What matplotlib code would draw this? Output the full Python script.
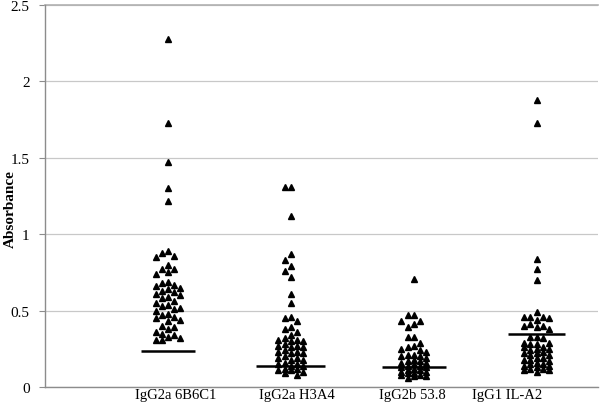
import numpy as np
import matplotlib
matplotlib.use("Agg")
import matplotlib.pyplot as plt

# ─── Data ────────────────────────────────────────────────────────────────────

groups = ["IgG2a 6B6C1", "IgG2a H3A4", "IgG2b 53.8", "IgG1 IL-A2"]

vals_6b6c1 = [2.28, 1.73, 1.47, 1.30, 1.22,
              0.89, 0.88, 0.86, 0.85, 0.80, 0.77, 0.77, 0.75, 0.74,
              0.69, 0.68, 0.67, 0.66, 0.65, 0.64, 0.63, 0.62, 0.61, 0.60,
              0.59, 0.58, 0.56, 0.55, 0.54, 0.53, 0.52, 0.51, 0.50,
              0.48, 0.47, 0.46, 0.45, 0.44, 0.43,
              0.40, 0.39, 0.38, 0.36, 0.35, 0.34, 0.33, 0.32, 0.31, 0.31]

vals_h3a4 = [1.31, 1.31, 1.12, 0.87, 0.83, 0.79, 0.76, 0.72, 0.61, 0.55,
             0.46, 0.45, 0.43, 0.39, 0.38, 0.36, 0.34,
             0.32, 0.31, 0.31, 0.30, 0.30, 0.28, 0.27, 0.27, 0.26, 0.26,
             0.24, 0.23, 0.23, 0.22, 0.22, 0.20, 0.19, 0.19, 0.18, 0.18,
             0.16, 0.15, 0.15, 0.14, 0.14, 0.12, 0.12, 0.11, 0.11, 0.10,
             0.09, 0.08]

vals_538 = [0.71, 0.47, 0.47, 0.43, 0.43, 0.41, 0.39, 0.33, 0.33, 0.29,
            0.27, 0.26, 0.25, 0.24, 0.23,
            0.21, 0.21, 0.20, 0.20, 0.19, 0.18, 0.17, 0.17, 0.16, 0.16,
            0.15, 0.14, 0.14, 0.13, 0.13, 0.12, 0.11, 0.11, 0.10, 0.10,
            0.09, 0.09, 0.08, 0.08, 0.07, 0.07, 0.06]

vals_ila2 = [1.88, 1.73, 0.84, 0.77, 0.70, 0.49, 0.46, 0.46, 0.46, 0.45,
             0.44, 0.41, 0.40, 0.40, 0.39, 0.38, 0.33, 0.33, 0.32,
             0.29, 0.29, 0.28, 0.28, 0.26, 0.26, 0.25, 0.25, 0.24,
             0.23, 0.22, 0.22, 0.21, 0.21, 0.19, 0.19, 0.18, 0.18, 0.17,
             0.16, 0.15, 0.15, 0.14, 0.14, 0.13, 0.12, 0.12, 0.11, 0.11,
             0.10]

cutoffs = [0.235, 0.14, 0.13, 0.345]

# ─── Layout ──────────────────────────────────────────────────────────────────

plt.rcParams["font.family"] = ["Liberation Serif", "DejaVu Serif"]

centers = [1, 2, 3, 4]
label_pos = [1.06, 2.05, 2.99, 3.76]
line_half = [0.22, 0.28, 0.26, 0.23]
col_step = 0.05
col_order = [0, -1, 1, -2, 2]
min_gap = 0.042


def swarm_x(values, center):
    """Place points in up to five columns so close values sit side by side."""
    last = {c: None for c in col_order}
    xs = []
    for v in values:
        chosen = None
        for c in col_order:
            if last[c] is None or last[c] - v >= min_gap:
                chosen = c
                break
        if chosen is None:
            chosen = max(col_order, key=lambda c: last[c] - v)
        last[chosen] = v
        xs.append(center + chosen * col_step)
    return xs


fig = plt.figure(figsize=(6.0, 4.06), dpi=100)
ax = fig.add_axes([0.075, 0.0443, 0.9217, 0.9409])

all_vals = [vals_6b6c1, vals_h3a4, vals_538, vals_ila2]
for vals, c, cut, hw in zip(all_vals, centers, cutoffs, line_half):
    v = sorted(vals, reverse=True)
    ax.plot(swarm_x(v, c), v, linestyle="none", marker="^",
            markersize=5, color="black", zorder=3)
    ax.plot([c - hw, c + hw], [cut, cut], color="black", linewidth=1.8,
            zorder=4, solid_capstyle="butt")

ax.set_xlim(0, 4.5)
ax.set_ylim(0, 2.5)
ax.set_yticks([0, 0.5, 1, 1.5, 2, 2.5])
ax.set_yticklabels(["0", "0.5", "1", "1.5", "2", "2.5"])
ax.set_xticks(label_pos)
ax.set_xticklabels(groups)

ax.yaxis.grid(True, color="#c8c8c8", linewidth=0.9)
ax.set_axisbelow(True)
ax.axhline(2.5, color="#b0b0b0", linewidth=1.2, clip_on=False, zorder=1)
for side in ("top", "right"):
    ax.spines[side].set_visible(False)
for side in ("left", "bottom"):
    ax.spines[side].set_color("#8c8c8c")
    ax.spines[side].set_linewidth(1.0)

ax.tick_params(axis="y", length=4, color="#8c8c8c", pad=7, labelsize=11)
ax.tick_params(axis="x", length=0, pad=1, labelsize=10.5)

fig.text(0.018, 0.485, "Absorbance", rotation=90, ha="center", va="center",
         fontsize=11, fontweight="bold")

fig.savefig("out.png", dpi=100)
